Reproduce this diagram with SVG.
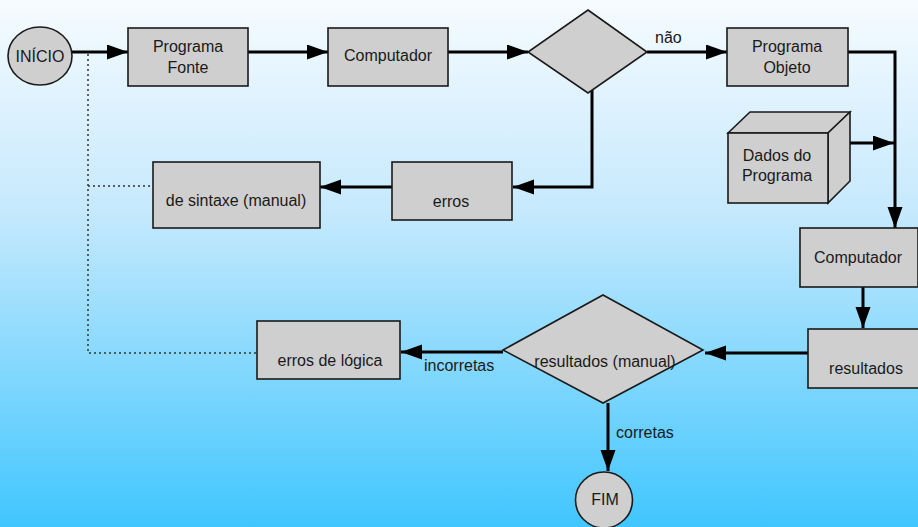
<svg xmlns="http://www.w3.org/2000/svg" width="918" height="527" viewBox="0 0 918 527">
<defs>
<linearGradient id="bg" x1="0" y1="0" x2="0" y2="1">
<stop offset="0" stop-color="#f6fbff"/>
<stop offset="0.4" stop-color="#c6e9fd"/>
<stop offset="1" stop-color="#40c6fe"/>
</linearGradient>
<marker id="ah" markerUnits="userSpaceOnUse" markerWidth="22" markerHeight="16" refX="21" refY="7.5" orient="auto">
<path d="M0,0 L21,7.5 L0,15 z" fill="#000"/>
</marker>
<style>
.n{fill:#cfcfcf;stroke:#1a1a1a;stroke-width:1.6}
.t{font-family:"Liberation Sans",Arial,sans-serif;font-size:16px;fill:#1a1a1a;text-anchor:middle}
.l{font-family:"Liberation Sans",Arial,sans-serif;font-size:16px;fill:#1a1a1a}
.c{fill:none;stroke:#000;stroke-width:3}
.d{fill:none;stroke:#333;stroke-width:1.5;stroke-dasharray:2 3}
</style>
</defs>
<rect x="0" y="0" width="918" height="527" fill="url(#bg)"/>
<g id="connectors">
<line class="c" x1="72" y1="52" x2="128" y2="52" marker-end="url(#ah)"/>
<line class="c" x1="248" y1="52" x2="328" y2="52" marker-end="url(#ah)"/>
<line class="c" x1="448" y1="52" x2="528" y2="52" marker-end="url(#ah)"/>
<line class="c" x1="647" y1="52" x2="727" y2="52" marker-end="url(#ah)"/>
<polyline class="c" points="848,52 895,52 895,228" marker-end="url(#ah)"/>
<line class="c" x1="850" y1="143" x2="894" y2="143" marker-end="url(#ah)"/>
<polyline class="c" points="592,90 592,187 513,187" marker-end="url(#ah)"/>
<line class="c" x1="392" y1="187" x2="320" y2="187" marker-end="url(#ah)"/>
<line class="c" x1="863" y1="287" x2="863" y2="328" marker-end="url(#ah)"/>
<line class="c" x1="808" y1="353" x2="705" y2="353" marker-end="url(#ah)"/>
<line class="c" x1="503" y1="352" x2="401" y2="352" marker-end="url(#ah)"/>
<line class="c" x1="608" y1="403" x2="608" y2="471" marker-end="url(#ah)"/>
<polyline class="d" points="88,54 88,353 257,353"/>
<line class="d" x1="88" y1="186" x2="153" y2="186"/>
<text class="l" x="655" y="43">não</text>
<text class="l" x="424" y="371">incorretas</text>
<text class="l" x="616" y="438">corretas</text>
</g>
<g id="inicio">
<ellipse class="n" cx="40" cy="56" rx="32" ry="29"/>
<text class="t" x="40" y="62">INÍCIO</text>
</g>
<g id="programa-fonte">
<rect class="n" x="128" y="28" width="120" height="58"/>
<text class="t" x="188" y="52">Programa</text>
<text class="t" x="188" y="73">Fonte</text>
</g>
<g id="computador1">
<rect class="n" x="328" y="28" width="120" height="58"/>
<text class="t" x="388" y="61">Computador</text>
</g>
<g id="decisao1">
<polygon class="n" points="588,10 647,52 588,93 528,52"/>
</g>
<g id="programa-objeto">
<rect class="n" x="727" y="28" width="121" height="58"/>
<text class="t" x="787" y="52">Programa</text>
<text class="t" x="787" y="73">Objeto</text>
</g>
<g id="dados">
<polygon class="n" points="728,133 750,112 850,112 828,133"/>
<polygon class="n" points="828,133 850,112 850,181 828,203"/>
<rect class="n" x="728" y="133" width="100" height="70"/>
<text class="t" x="777" y="161">Dados do</text>
<text class="t" x="777" y="181">Programa</text>
</g>
<g id="erros">
<rect class="n" x="392" y="162" width="120" height="58"/>
<text class="t" x="451" y="207">erros</text>
</g>
<g id="sintaxe">
<rect class="n" x="153" y="162" width="167" height="66"/>
<text class="t" x="236" y="206">de sintaxe (manual)</text>
</g>
<g id="computador2">
<rect class="n" x="800" y="228" width="118" height="59"/>
<text class="t" x="858" y="263">Computador</text>
</g>
<g id="resultados">
<rect class="n" x="808" y="329" width="111" height="59"/>
<text class="t" x="866" y="374">resultados</text>
</g>
<g id="decisao2">
<polygon class="n" points="603,295 703,350 603,403 503,350"/>
<text class="t" x="605" y="367">resultados (manual)</text>
</g>
<g id="erros-logica">
<rect class="n" x="257" y="321" width="143" height="58"/>
<text class="t" x="330" y="366">erros de lógica</text>
</g>
<g id="fim">
<ellipse class="n" cx="604" cy="500" rx="28.5" ry="28"/>
<text class="t" x="605" y="505">FIM</text>
</g>
</svg>
